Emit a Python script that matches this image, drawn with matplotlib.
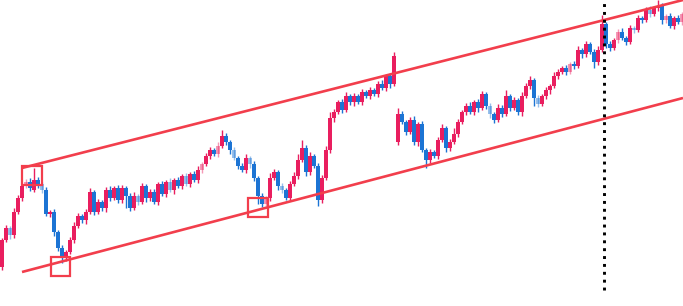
import matplotlib
matplotlib.use("Agg")
import matplotlib.pyplot as plt
from matplotlib.patches import Rectangle
import numpy as np

# closing prices, one per candle
closes = [66, 78, 71, 94, 108, 120, 124, 118, 126, 122,
          116, 92, 94, 74, 58, 48, 54, 66, 80, 90,
          86, 94, 114, 94, 104, 98, 116, 108, 118, 106,
          118, 110, 98, 110, 104, 120, 108, 114, 104, 122,
          112, 124, 116, 126, 120, 130, 122, 132, 126, 136,
          142, 150, 156, 152, 160, 170, 164, 156, 148, 140,
          136, 148, 142, 128, 110, 102, 108, 128, 134, 120,
          116, 108, 122, 130, 146, 158, 134, 150, 140, 106,
          128, 156, 188, 194, 204, 196, 210, 204, 210, 204,
          214, 210, 216, 212, 222, 218, 230, 222, 250, 192,
          184, 174, 186, 164, 182, 156, 146, 154, 150, 166,
          178, 158, 164, 172, 184, 194, 200, 194, 204, 198,
          212, 200, 192, 186, 198, 192, 210, 198, 206, 194,
          210, 220, 226, 208, 202, 210, 216, 220, 230, 234,
          238, 234, 242, 240, 256, 252, 262, 254, 244, 256,
          282, 262, 258, 266, 274, 268, 264, 278, 276, 288,
          286, 296, 292, 298, 300, 286, 290, 280, 288, 284,
          292]
# opens follow the previous close except where the market gapped
gap_opens = {0: 39, 8: 116, 99: 164}
hi_ext = [2, 3, 2, 4, 3, 2, 3, 4, 12, 3,
          2, 3, 2, 3, 2, 3, 2, 3, 4, 3,
          2, 3, 4, 2, 3, 2, 3, 4, 2, 3,
          3, 2, 3, 4, 2, 3, 2, 3, 3, 2,
          3, 2, 4, 2, 3, 2, 3, 2, 3, 4,
          2, 3, 3, 2, 4, 6, 3, 2, 3, 2,
          3, 4, 2, 3, 2, 3, 2, 5, 3, 2,
          3, 2, 3, 4, 6, 8, 3, 4, 2, 3,
          3, 4, 6, 3, 2, 3, 4, 2, 3, 2,
          3, 2, 3, 2, 3, 4, 2, 3, 4, 6,
          3, 2, 3, 4, 2, 3, 2, 3, 2, 3,
          4, 2, 3, 6, 3, 2, 3, 4, 2, 3,
          3, 2, 3, 2, 4, 3, 6, 2, 3, 2,
          4, 3, 4, 2, 3, 2, 3, 2, 4, 3,
          2, 3, 2, 3, 4, 2, 3, 2, 3, 4,
          9, 2, 3, 2, 3, 4, 2, 3, 2, 3,
          2, 3, 4, 2, 6, 3, 2, 3, 2, 3,
          2]
lo_ext = [3, 2, 4, 3, 2, 3, 2, 3, 2, 4,
          3, 2, 3, 4, 3, 5, 3, 2, 3, 2,
          3, 4, 2, 3, 2, 3, 4, 3, 2, 3,
          3, 12, 3, 2, 3, 2, 4, 3, 2, 3,
          2, 3, 2, 4, 2, 3, 2, 3, 2, 3,
          3, 2, 3, 2, 3, 2, 3, 4, 2, 3,
          2, 3, 4, 3, 8, 3, 2, 3, 2, 4,
          3, 2, 3, 2, 3, 2, 4, 3, 2, 6,
          3, 2, 3, 4, 2, 3, 2, 3, 4, 2,
          3, 2, 3, 2, 3, 2, 3, 4, 2, 3,
          2, 3, 2, 3, 4, 2, 8, 3, 2, 3,
          2, 4, 3, 2, 3, 2, 3, 2, 3, 4,
          2, 3, 4, 3, 2, 3, 2, 3, 2, 3,
          4, 2, 3, 8, 3, 2, 3, 4, 2, 3,
          2, 3, 2, 3, 2, 4, 3, 2, 6, 3,
          2, 4, 3, 2, 3, 2, 3, 2, 3, 2,
          3, 2, 3, 2, 3, 4, 3, 2, 3, 2,
          3]

# channel lines: (start index, start price, end index, end price)
upper_line = (5, 138, 170.25, 306)
lower_line = (5, 34, 170.25, 208)
# highlighted swing points: (left index, bottom price, right index, top price)
boxes = [(5, 121, 10, 140), (12.25, 30, 17, 49), (61.5, 89, 66.5, 108)]
marker_index = 150.5
marker_bottom = 16

UP = "#e91e5f"
DOWN = "#1c74d4"
LINE = "#f23e4c"

opens = [gap_opens.get(i, closes[i - 1] if i else closes[0]) for i in range(len(closes))]
idx = np.arange(len(closes))
o = np.array(opens, float)
c = np.array(closes, float)
top = np.maximum(o, c)
bot = np.minimum(o, c)
hi = top + np.array(hi_ext)
lo = bot - np.array(lo_ext)

fig = plt.figure(figsize=(6.83, 3.06), dpi=100)
ax = fig.add_axes([0, 0, 1, 1])

for i in idx:
    col = UP if c[i] >= o[i] else DOWN
    # small-bodied candles are drawn faded, like the reference
    a = 0.45 if (i % 4 == 2 and top[i] - bot[i] < 10) else 1.0
    ax.vlines(i, lo[i], hi[i], color=col, lw=1.0, alpha=a, zorder=2)
    h = max(top[i] - bot[i], 2)
    ax.bar(i, h, bottom=bot[i], width=0.82, color=col, alpha=a, linewidth=0, zorder=2)

for x0, y0, x1, y1 in (upper_line, lower_line):
    ax.plot([x0, x1], [y0, y1], color=LINE, lw=1.9, zorder=3, solid_capstyle="butt")

for x0, y0, x1, y1 in boxes:
    ax.add_patch(Rectangle((x0, y0), x1 - x0, y1 - y0, fill=False,
                           edgecolor=LINE, lw=1.6, zorder=4))

ax.vlines(marker_index, marker_bottom, 306, color="black", lw=2.1,
          linestyles=[(0, (1, 1.7))], zorder=5)

ax.set_xlim(-0.5, 170.25)
ax.set_ylim(0, 306)
ax.axis("off")

plt.savefig("out.png", dpi=100)
